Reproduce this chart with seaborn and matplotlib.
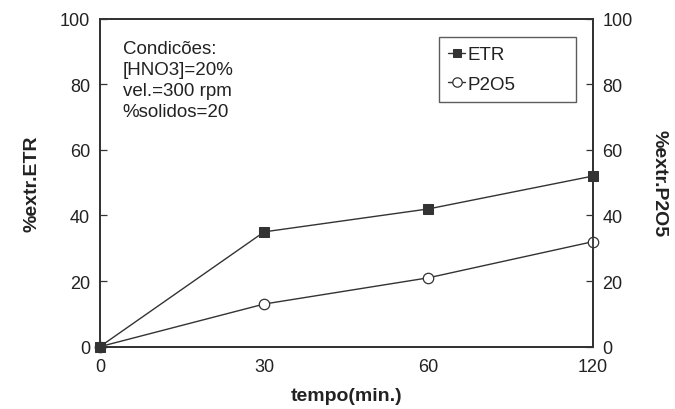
import matplotlib
matplotlib.use("Agg")
import matplotlib.pyplot as plt
import seaborn as sns
import pandas as pd

tempo_labels = ["0", "30", "60", "120"]
etr_values = [0, 35, 42, 52]
p2o5_values = [0, 13, 21, 32]
conditions_text = ["Condicões:", "[HNO3]=20%", "vel.=300 rpm", "%solidos=20"]

sns.set_theme(style="white")
plt.rcParams['font.family'] = ['Liberation Sans', 'DejaVu Sans']

ink = "#333333"
txt = "#222222"
df = pd.DataFrame({"pos": range(len(tempo_labels)), "ETR": etr_values, "P2O5": p2o5_values})

fig = plt.figure(figsize=(6.75, 4.1), dpi=100)
fig.patch.set_facecolor("white")
ax = fig.add_axes([0.148, 0.152, 0.730, 0.800])

sns.lineplot(data=df, x="pos", y="ETR", ax=ax, color=ink, lw=1.0, marker="s",
             markersize=7, markerfacecolor=ink, markeredgecolor=ink, label="ETR",
             clip_on=False, zorder=4)
sns.lineplot(data=df, x="pos", y="P2O5", ax=ax, color=ink, lw=1.0, marker="o",
             markersize=7.5, markerfacecolor="white", markeredgecolor=ink, markeredgewidth=0.9,
             label="P2O5", clip_on=False, zorder=3)

ax.set_xlim(0, 3)
ax.set_ylim(0, 100)
ax.set_xticks(range(len(tempo_labels)))
ax.set_xticklabels(tempo_labels)
ax.set_yticks([0, 20, 40, 60, 80, 100])
ax.tick_params(axis="both", direction="in", length=5, width=0.9, color=ink,
               labelsize=13, labelcolor=txt, pad=7)
ax.tick_params(axis="x", top=False, pad=8)
ax.set_xlabel("tempo(min.)", fontsize=14, fontweight="bold", color=txt, labelpad=9)
ax.set_ylabel("%extr.ETR", fontsize=14, fontweight="bold", color=txt, labelpad=14)
for s in ax.spines.values():
    s.set_color(ink)
    s.set_linewidth(1.3)

ax2 = ax.twinx()
ax2.set_ylim(0, 100)
ax2.set_yticks([0, 20, 40, 60, 80, 100])
ax2.tick_params(axis="y", direction="in", length=5, width=0.9, color=ink,
                labelsize=13, labelcolor=txt, pad=7)
ax2.set_ylabel("%extr.P2O5", fontsize=14, fontweight="bold", color=txt,
               rotation=270, labelpad=25)
for s in ax2.spines.values():
    s.set_color(ink)
    s.set_linewidth(1.3)

ax.text(0.046, 0.935, "\n".join(conditions_text), transform=ax.transAxes, fontsize=13.5,
        color=txt, va="top", ha="left", linespacing=1.32)

leg = ax.legend(loc="upper left", bbox_to_anchor=(0.688, 0.765, 0.278, 0.18), mode="expand",
                fontsize=13.5, handlelength=0.9, handletextpad=0.15, frameon=True,
                fancybox=False, borderpad=0.5, labelspacing=0.65, borderaxespad=0,
                markerscale=0.9)
leg.get_frame().set_edgecolor(ink)
leg.get_frame().set_linewidth(1.0)
for t in leg.get_texts():
    t.set_color(txt)

fig.savefig("out.png", dpi=100, facecolor="white")
